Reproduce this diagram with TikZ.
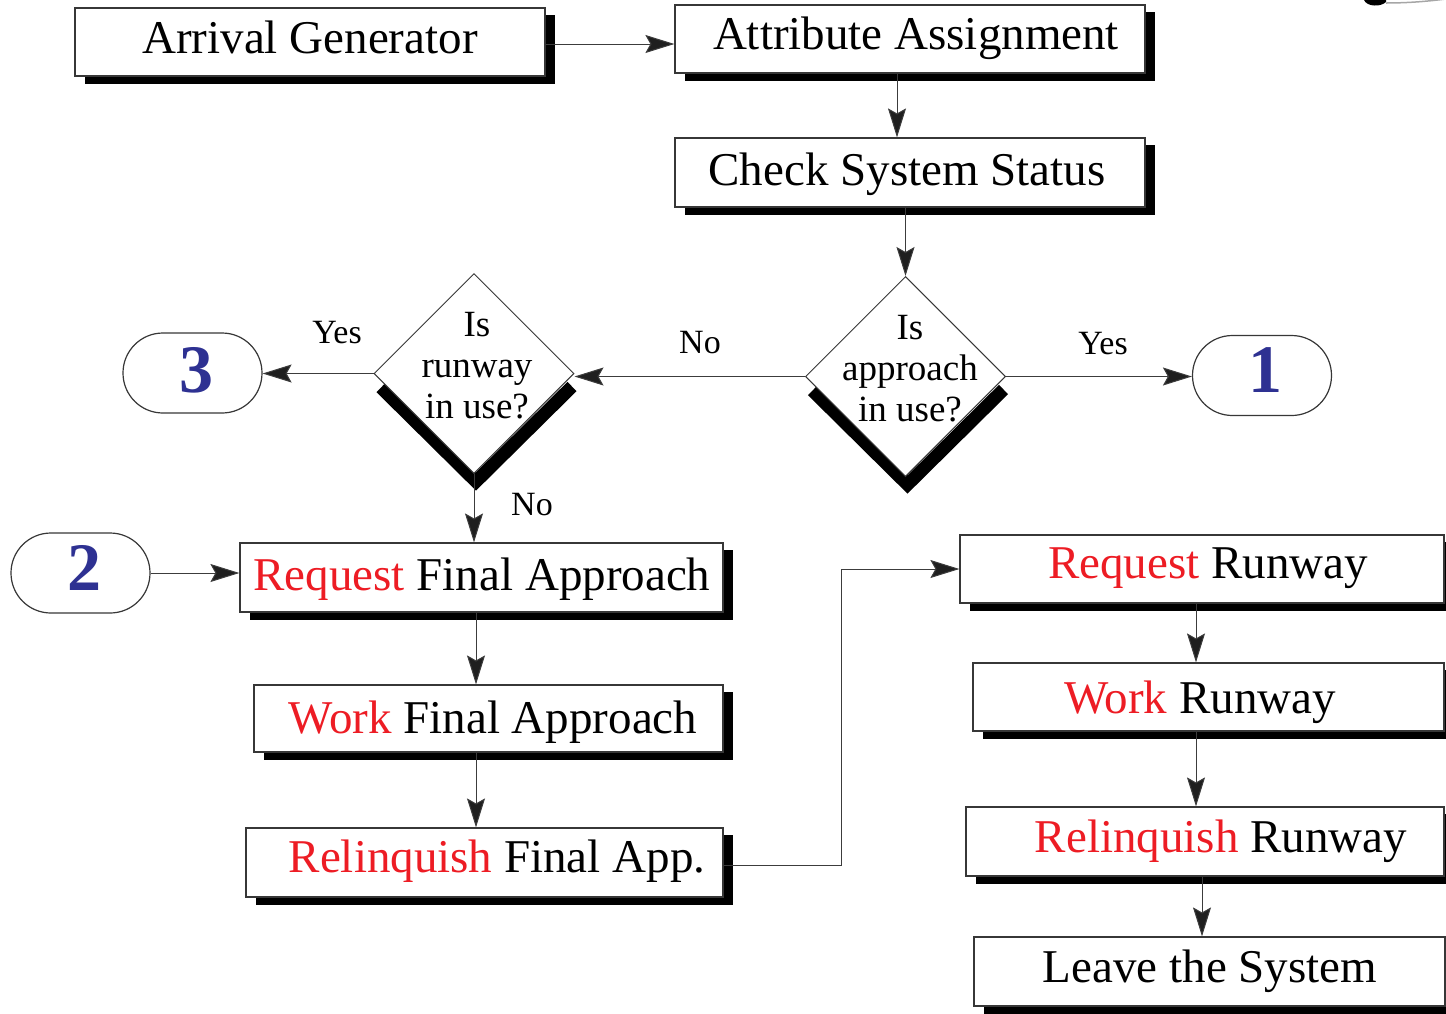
\documentclass[tikz,border=0pt]{standalone}
\usepackage{fontspec}
\setmainfont{Liberation Serif}
\usetikzlibrary{arrows.meta,shapes.geometric,backgrounds}
\definecolor{req}{RGB}{237,28,36}
\definecolor{numblue}{RGB}{46,49,146}
\definecolor{edge}{RGB}{55,55,55}
\definecolor{wire}{RGB}{60,60,60}

% a white process box with a solid black drop shadow
\newcommand\panel[5]{%
  \fill[black] ({#2-#4/2+10},{#3-#5/2+7}) rectangle ({#2+#4/2+10},{#3+#5/2+8});
  \node[box, minimum width=#4pt, minimum height=#5pt] (#1) at (#2,#3) {};}

\begin{document}
\begin{tikzpicture}[x=1pt,y=-1pt,
  box/.style={draw=edge, line width=1.2pt, fill=white, inner sep=0pt},
  txt/.style={anchor=base, inner sep=0pt, font=\fontsize{47}{50}\selectfont},
  qtxt/.style={align=center, inner sep=0pt, font=\fontsize{37}{41}\selectfont},
  lbl/.style={anchor=base, inner sep=0pt, font=\fontsize{34}{36}\selectfont},
  num/.style={anchor=base, inner sep=0pt, text=numblue, font=\fontsize{68}{70}\selectfont\bfseries},
  decision/.style={diamond, aspect=1, draw=edge, line width=1pt, fill=white, inner sep=0pt,
                   minimum width=200pt, minimum height=200pt},
  dshadow/.style={line width=13pt, black, miter limit=10},
  term/.style={draw=edge, line width=1.2pt, fill=white, rounded corners=39.9pt, inner sep=0pt,
               minimum width=139pt, minimum height=80pt},
  conn/.style={draw=wire, line width=1pt, -{Stealth[length=29pt,width=18pt,inset=5pt,fill=black!88]}}]

\useasboundingbox (0,0) rectangle (1446,1013);

% stray mark in the upper right corner
\fill[black] (1364,0) .. controls (1367,7) and (1381,7) .. (1386,2) -- (1386,0) -- cycle;
\draw[gray!70, line width=1.5pt] (1386,3) .. controls (1410,3) and (1430,1) .. (1446,-1);

% process boxes
\panel{AG}{310}{42}{470}{68}
\panel{AA}{910}{39}{470}{68}
\panel{CS}{910}{172.5}{470}{69}
\panel{RFA}{481.5}{577.5}{483}{69}
\panel{WFA}{488.5}{718.5}{469}{67}
\panel{LFA}{484.5}{862.5}{477}{69}
\panel{RR}{1202}{569}{484}{68}
\panel{WR}{1208.5}{697}{471}{68}
\panel{LR}{1205}{841.5}{478}{69}
\panel{LS}{1209.5}{971.5}{471}{69}

\node[txt] (tAG)  at (310,53)  {Arrival Generator};
\node[txt] (tAA)  at (916,49)  {Attribute Assignment};
\node[txt] (tCS)  at (907,185) {Check System Status};
\node[txt] (tRFA) at (482,590) {\textcolor{req}{Request} Final Approach};
\node[txt] (tWFA) at (493,733) {\textcolor{req}{Work} Final Approach};
\node[txt] (tLFA) at (497,872) {\textcolor{req}{Relinquish} Final App.};
\node[txt] (tRR)  at (1208,578) {\textcolor{req}{Request} Runway};
\node[txt] (tWR)  at (1200,713) {\textcolor{req}{Work} Runway};
\node[txt] (tLR)  at (1221,852) {\textcolor{req}{Relinquish} Runway};
\node[txt] (tLS)  at (1210,982) {Leave the System};

% decisions
\node[decision] (DR) at (474,373.5) {};
\node[decision] (DA) at (905.5,376.5) {};
\begin{scope}[on background layer]
  \draw[dshadow] ([shift={(-93,14)}]DR.center) -- ([shift={(2,108)}]DR.center) -- ([shift={(98,13)}]DR.center);
  \draw[dshadow] ([shift={(-93,14)}]DA.center) -- ([shift={(2,108)}]DA.center) -- ([shift={(98,13)}]DA.center);
\end{scope}
\node[qtxt] (qR) at (477,366) {Is\\runway\\in use?};
\node[qtxt] (qA) at (910,369) {Is\\approach\\in use?};

% connectors to other pages
\node[term] (T3) at (192.5,373) {};
\node[term] (T1) at (1262,375.5) {};
\node[term] (T2) at (80.5,573) {};
\node[num] (n3) at (196,392) {3};
\node[num] (n1) at (1265,392) {1};
\node[num] (n2) at (84,590) {2};

% x positions of vertical runs
\coordinate (xa) at (897,0);
\coordinate (xl) at (476,0);
\coordinate (xr) at (1196,0);
\coordinate (xs) at (1202,0);
\coordinate (xb) at (841,0);

% flow
\draw[conn] ([yshift=-2pt]AG.east) -- ([yshift=-2pt]AG.east -| AA.west);
\draw[conn] (AA.south -| xa) -- (CS.north -| xa);
\draw[conn] (CS.south -| DA.north) -- (DA.north);
\draw[conn] (DA.west) -- (DA.west -| DR.east);
\draw[conn] (DA.east) -- (DA.east -| T1.west);
\draw[conn] (DR.west) -- (DR.west -| T3.east);
\draw[conn] (DR.south) -- (DR.south |- RFA.north);
\draw[conn] (T2.east) -- (T2.east -| RFA.west);
\draw[conn] (RFA.south -| xl) -- (WFA.north -| xl);
\draw[conn] (WFA.south -| xl) -- (LFA.north -| xl);
\draw[conn] ([yshift=-3pt]LFA.east) -- ([yshift=-3pt]LFA.east -| xb) -- (xb |- RR.west) -- (RR.west);
\draw[conn] (RR.south -| xr) -- (WR.north -| xr);
\draw[conn] (WR.south -| xr) -- (LR.north -| xr);
\draw[conn] (LR.south -| xs) -- (LS.north -| xs);

% branch labels
\node[lbl] (yes3) at (337,343) {Yes};
\node[lbl] (noA)  at (700,353) {No};
\node[lbl] (yes1) at (1103,354) {Yes};
\node[lbl] (noR)  at (532,515) {No};

\end{tikzpicture}
\end{document}
